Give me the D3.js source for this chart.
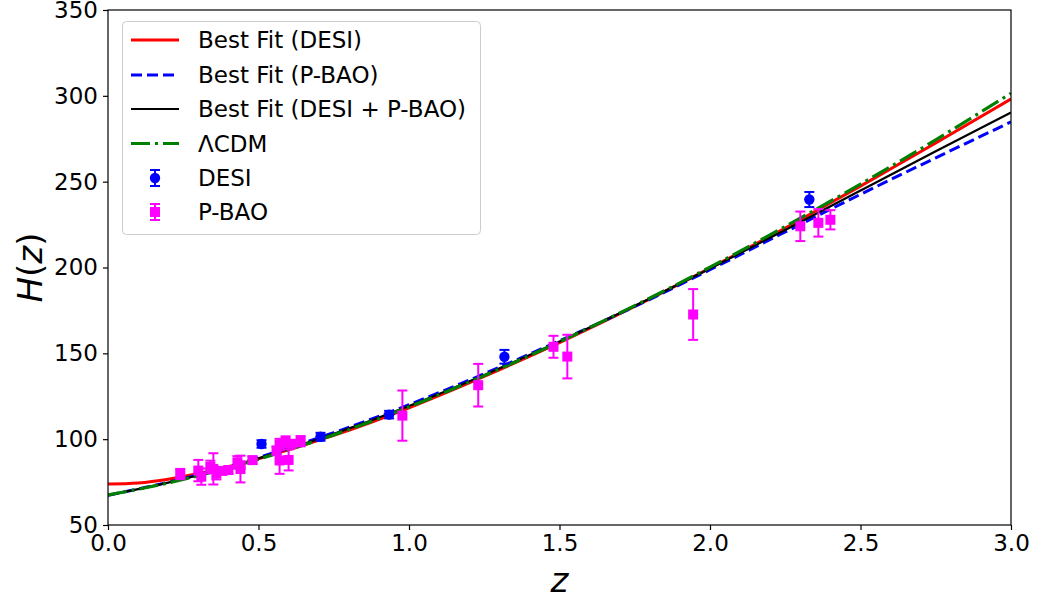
<!DOCTYPE html>
<html>
<head>
<meta charset="utf-8">
<script src="https://cdn.jsdelivr.net/npm/d3@7"></script>
<style>
body { margin: 0; background: #fff; }
svg { display: block; font-family: "DejaVu Sans", sans-serif; }
</style>
</head>
<body>
<svg id="chart"></svg>
<script>
var width = 1039
var height = 601
var margin = {left: 108, right: 28, top: 10, bottom: 76}

// model curves, H(z)
var zGrid = [0, 0.1, 0.2, 0.3, 0.4, 0.5, 0.75, 1.0, 1.25, 1.5, 1.75, 2.0, 2.25, 2.5, 2.75, 3.0]
var hDesi = [73.9, 74.5, 76.7, 80.0, 84.0, 88.5, 102.2, 118.3, 136.6, 156.3, 177.3, 199.6, 223.0, 247.4, 272.5, 298.2]
var hPbao = [67.3, 71.0, 74.9, 79.3, 84.1, 89.3, 103.8, 120.1, 138.1, 157.3, 177.3, 198.7, 220.7, 242.6, 263.9, 284.8]
var hJoint = [67.4, 70.9, 74.7, 79.0, 83.7, 88.8, 103.1, 119.3, 137.4, 156.9, 177.6, 199.4, 221.9, 244.8, 267.7, 290.3]
var hLcdm = [67.5, 70.8, 74.5, 78.7, 83.3, 88.3, 102.5, 118.8, 137.0, 156.7, 177.8, 200.2, 223.9, 248.6, 274.4, 301.5]

// DESI points
var desiZ = [0.51, 0.706, 0.934, 1.317, 2.33]
var desiH = [97.2, 101.4, 114.3, 148.0, 239.6]
var desiErr = [2.2, 2.3, 2.2, 4.0, 4.4]

// P-BAO points
var pbaoZ = [0.24, 0.30, 0.31, 0.34, 0.35, 0.36, 0.38, 0.40, 0.43, 0.44, 0.44, 0.48, 0.56, 0.57, 0.57, 0.59, 0.60, 0.61, 0.64, 0.978, 1.23, 1.48, 1.526, 1.944, 2.30, 2.36, 2.40]
var pbaoH = [79.69, 81.7, 78.17, 83.8, 82.7, 79.93, 81.5, 82.04, 86.45, 82.6, 84.81, 87.79, 93.34, 87.6, 96.8, 98.48, 87.9, 97.3, 98.82, 113.72, 131.44, 153.81, 148.11, 172.63, 224.0, 226.0, 227.8]
var pbaoErr = [2.99, 6.22, 4.74, 3.66, 9.1, 3.39, 1.9, 2.03, 3.68, 7.8, 1.83, 2.03, 2.3, 7.8, 3.4, 3.18, 6.1, 2.1, 2.99, 14.63, 12.42, 6.39, 12.71, 14.79, 8.6, 8.0, 5.61]

var xTicks = [0, 0.5, 1.0, 1.5, 2.0, 2.5, 3.0]
var yTicks = [50, 100, 150, 200, 250, 300, 350]

var curves = [
  {label: "Best Fit (DESI)", h: hDesi, color: "#ff0000", w: 3, dash: null},
  {label: "Best Fit (P-BAO)", h: hPbao, color: "#0000ff", w: 3, dash: "11,5"},
  {label: "Best Fit (DESI + P-BAO)", h: hJoint, color: "#000000", w: 2.2, dash: null},
  {label: "\u039bCDM", h: hLcdm, color: "#008000", w: 3.2, dash: "19,5,3,5"}
]

var svg = d3.select("#chart")
  .attr("width", width)
  .attr("height", height)

var x = d3.scaleLinear().domain([0, 3]).range([margin.left, width - margin.right])
var y = d3.scaleLinear().domain([50, 350]).range([height - margin.bottom, margin.top])

svg.append("clipPath").attr("id", "clip")
  .append("rect")
  .attr("x", margin.left).attr("y", margin.top)
  .attr("width", width - margin.left - margin.right)
  .attr("height", height - margin.top - margin.bottom)

var plot = svg.append("g").attr("clip-path", "url(#clip)")

var line = d3.line()
  .x(function(d){ return x(d[0]) })
  .y(function(d){ return y(d[1]) })
  .curve(d3.curveNatural)

curves.forEach(function(c){
  var pts = zGrid.map(function(z, i){ return [z, c.h[i]] })
  plot.append("path")
    .datum(pts)
    .attr("d", line)
    .attr("fill", "none")
    .attr("stroke", c.color)
    .attr("stroke-width", c.w)
    .attr("stroke-dasharray", c.dash)
})

function errorbars(g, zs, hs, errs, color, shape){
  var pts = zs.map(function(z, i){ return {z: z, h: hs[i], e: errs[i]} })
  pts.forEach(function(d){
    var cx = x(d.z), y0 = y(d.h - d.e), y1 = y(d.h + d.e)
    g.append("line").attr("x1", cx).attr("x2", cx).attr("y1", y0).attr("y2", y1)
      .attr("stroke", color).attr("stroke-width", 2)
    ;[y0, y1].forEach(function(yy){
      g.append("line").attr("x1", cx - 5).attr("x2", cx + 5).attr("y1", yy).attr("y2", yy)
        .attr("stroke", color).attr("stroke-width", 2)
    })
  })
  pts.forEach(function(d){
    if (shape == "circle") {
      g.append("circle").attr("cx", x(d.z)).attr("cy", y(d.h)).attr("r", 5.2).attr("fill", color)
    } else {
      g.append("rect").attr("x", x(d.z) - 5).attr("y", y(d.h) - 5)
        .attr("width", 10).attr("height", 10).attr("fill", color)
    }
  })
}

errorbars(plot.append("g"), desiZ, desiH, desiErr, "#0000ff", "circle")
errorbars(plot.append("g"), pbaoZ, pbaoH, pbaoErr, "#ff00ff", "square")

// axes
var xAxis = svg.append("g")
  .attr("transform", "translate(0," + (height - margin.bottom) + ")")
  .call(d3.axisBottom(x).tickValues(xTicks).tickFormat(d3.format(".1f")).tickSizeOuter(0).tickSize(5).tickPadding(5))
var yAxis = svg.append("g")
  .attr("transform", "translate(" + margin.left + ",0)")
  .call(d3.axisLeft(y).tickValues(yTicks).tickSizeOuter(0).tickSize(5).tickPadding(5))

svg.selectAll(".tick text").attr("font-size", 23).attr("font-family", "DejaVu Sans").attr("fill", "#000")
svg.selectAll(".tick line").attr("stroke", "#000").attr("stroke-width", 1.2)
svg.selectAll(".domain").remove()

// frame
svg.append("rect")
  .attr("x", margin.left).attr("y", margin.top)
  .attr("width", width - margin.left - margin.right)
  .attr("height", height - margin.top - margin.bottom)
  .attr("fill", "none").attr("stroke", "#000").attr("stroke-width", 1.2)

svg.append("text")
  .attr("x", (margin.left + width - margin.right) / 2)
  .attr("y", 592)
  .attr("text-anchor", "middle")
  .attr("font-size", 34)
  .attr("font-style", "italic")
  .text("z")

svg.append("text")
  .attr("transform", "translate(42," + ((margin.top + height - margin.bottom) / 2) + ") rotate(-90)")
  .attr("text-anchor", "middle")
  .attr("font-size", 34)
  .html("<tspan font-style='italic'>H</tspan>(<tspan font-style='italic'>z</tspan>)")

// legend
var legend = svg.append("g")
legend.append("rect")
  .attr("x", 122.5).attr("y", 21.5).attr("width", 358).attr("height", 213)
  .attr("rx", 4).attr("fill", "#fff").attr("fill-opacity", 0.8)
  .attr("stroke", "#cccccc").attr("stroke-width", 1)

var rowY = [40, 75, 109, 143.5, 178, 212]
curves.forEach(function(c, i){
  legend.append("line")
    .attr("x1", 131).attr("x2", 179).attr("y1", rowY[i]).attr("y2", rowY[i])
    .attr("stroke", c.color).attr("stroke-width", c.w).attr("stroke-dasharray", c.dash)
})
var ptLegend = [
  {label: "DESI", color: "#0000ff", shape: "circle"},
  {label: "P-BAO", color: "#ff00ff", shape: "square"}
]
ptLegend.forEach(function(p, j){
  var yy = rowY[4 + j]
  legend.append("line").attr("x1", 155).attr("x2", 155).attr("y1", yy - 8).attr("y2", yy + 8)
    .attr("stroke", p.color).attr("stroke-width", 2)
  ;[yy - 8, yy + 8].forEach(function(v){
    legend.append("line").attr("x1", 150).attr("x2", 160).attr("y1", v).attr("y2", v)
      .attr("stroke", p.color).attr("stroke-width", 2)
  })
  if (p.shape == "circle") {
    legend.append("circle").attr("cx", 155).attr("cy", yy).attr("r", 5.2).attr("fill", p.color)
  } else {
    legend.append("rect").attr("x", 150).attr("y", yy - 5).attr("width", 10).attr("height", 10).attr("fill", p.color)
  }
})
var labels = curves.map(function(c){ return c.label }).concat(ptLegend.map(function(p){ return p.label }))
labels.forEach(function(t, i){
  legend.append("text")
    .attr("x", 198).attr("y", rowY[i])
    .attr("dy", "0.36em")
    .attr("font-size", 23)
    .text(t)
})
</script>
</body>
</html>
